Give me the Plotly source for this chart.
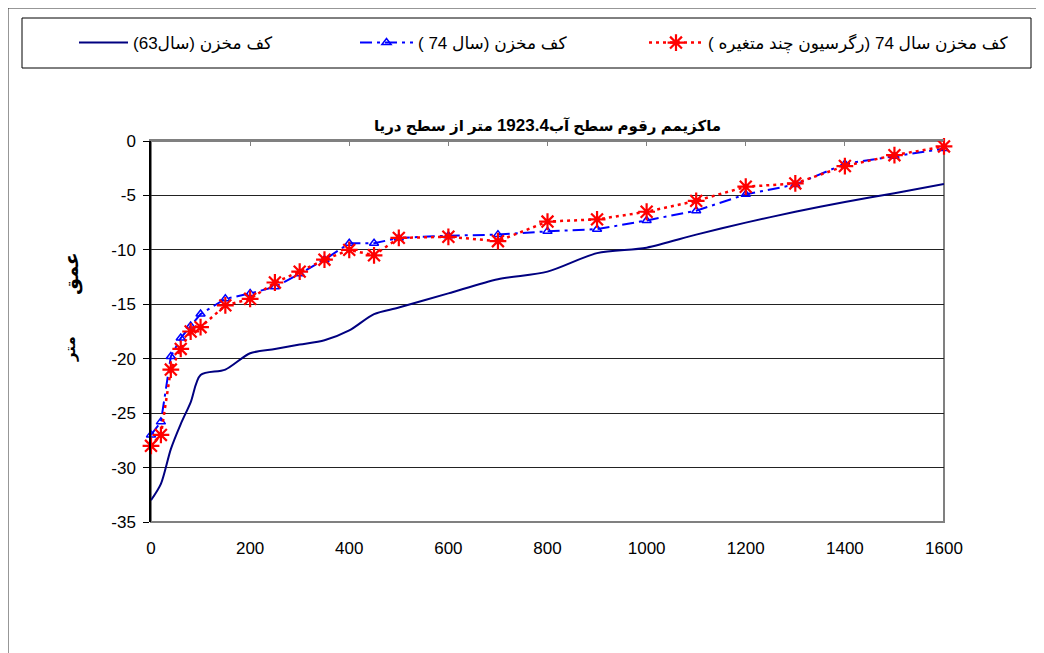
import plotly.graph_objects as go

# ---- data ----
distance = [0, 20, 40, 60, 80, 100, 150, 200, 250, 300, 350, 400, 450, 500,
            600, 700, 800, 900, 1000, 1100, 1200, 1300, 1400, 1500, 1600]
depth_63 = [-33.0, -31.5, -28.3, -26.0, -24.0, -21.5, -21.0, -19.5, -19.1, -18.7,
            -18.3, -17.4, -15.9, -15.3, -14.0, -12.7, -12.0, -10.3, -9.8, -8.6,
            -7.5, -6.5, -5.6, -4.8, -3.95]
depth_74 = [-27.0, -25.8, -19.8, -18.1, -17.0, -15.9, -14.5, -14.0, -13.4, -12.2,
            -10.9, -9.4, -9.4, -8.9, -8.7, -8.6, -8.3, -8.1, -7.3, -6.4,
            -4.9, -4.0, -2.1, -1.4, -0.7]
depth_74_reg = [-28.0, -27.0, -21.0, -19.1, -17.5, -17.1, -15.1, -14.5, -13.0, -12.0,
                -10.9, -10.0, -10.5, -8.9, -8.8, -9.2, -7.4, -7.2, -6.5, -5.5,
                -4.2, -3.9, -2.3, -1.3, -0.5]

RLE, PDF = "\u202b", "\u202c"
name_63 = RLE + "کف مخزن (سال63)" + PDF
name_74 = RLE + "کف مخزن (سال 74 )" + PDF
name_74_reg = RLE + "کف مخزن سال 74 (رگرسیون چند متغیره )" + PDF
title_text = (RLE + "ماکزیمم رقوم سطح آب<span style='font-size:17px'><b>1923.4</b></span>"
              " متر از سطح دریا" + PDF)
ylab_top = "عمق"
ylab_bot = "متر"

x_ticks = [0, 200, 400, 600, 800, 1000, 1200, 1400, 1600]
y_ticks = [0, -5, -10, -15, -20, -25, -30, -35]

FONT = "Liberation Sans, Arial, DejaVu Sans, sans-serif"
W, H = 1044, 653
OFF = 8  # page offset of the figure in the screenshot

# plot-area edges in page pixels
L, R, T, B = 151 - OFF, 944 - OFF, 141 - OFF, 522 - OFF

def px(xp):  # page pixel -> paper x
    return (xp - OFF - L) / (R - L)

def py(yp):  # page pixel -> paper y
    return (B - (yp - OFF)) / (B - T)

fig = go.Figure()
fig.add_trace(go.Scatter(
    x=distance, y=depth_63, name=name_63, mode="lines", legend="legend",
    line=dict(color="#000080", width=2, shape="spline", smoothing=0.8),
    cliponaxis=False))
fig.add_trace(go.Scatter(
    x=distance, y=depth_74, name=name_74, mode="lines+markers", legend="legend2",
    line=dict(color="#0000FF", width=2, dash="12px,5px,3px,5px"),
    marker=dict(symbol="triangle-up-open", size=8, color="#0000FF",
                line=dict(width=1.5, color="#0000FF")),
    cliponaxis=False))
fig.add_trace(go.Scatter(
    x=distance, y=depth_74_reg, name=name_74_reg, mode="lines+markers", legend="legend3",
    line=dict(color="#FF0000", width=2.5, dash="3px,4px"),
    marker=dict(symbol="asterisk-open", size=14, color="#FF0000",
                line=dict(width=2.2, color="#FF0000")),
    cliponaxis=False))

shapes = [
    # outer chart frame (figure border)
    dict(type="rect", xref="paper", yref="paper",
         x0=px(OFF - 0.5), x1=px(OFF + W + 10), y0=py(OFF + H + 10), y1=py(OFF - 0.5),
         line=dict(color="#303030", width=2), layer="below"),
    # legend box
    dict(type="rect", xref="paper", yref="paper", x0=px(22), x1=px(1031), y0=py(68), y1=py(18),
         line=dict(color="#000000", width=1), layer="below"),
    # plot-area border
    dict(type="rect", xref="paper", yref="paper", x0=0, x1=1, y0=0, y1=1,
         line=dict(color="#808080", width=2), layer="below"),
]

def legend_at(x_page, text_start):
    left = x_page - 5
    return dict(orientation="h", xref="paper", yref="paper",
                x=px(left), y=py(43), xanchor="left", yanchor="middle",
                font=dict(family=FONT, size=17, color="black"),
                itemwidth=max(30, text_start - left - 10),
                bgcolor="rgba(0,0,0,0)", borderwidth=0)

fig.update_layout(
    width=W, height=H,
    margin=dict(l=L, r=W - R, t=T, b=H - B, pad=0),
    paper_bgcolor="white", plot_bgcolor="white",
    font=dict(family=FONT, size=16, color="black"),
    title=dict(text=title_text, x=(L + R) / 2 / W, xanchor="center",
               y=1 - (126 - OFF) / H, yanchor="middle", yref="container",
               font=dict(family=FONT, size=15, color="black", weight="bold")),
    showlegend=True,
    legend=legend_at(79, 133),
    legend2=legend_at(360, 418),
    legend3=legend_at(649, 708),
    shapes=shapes,
    xaxis=dict(range=[0, 1600], tickvals=x_ticks, ticktext=[str(v) for v in x_ticks],
               showgrid=False, zeroline=False, showline=False, ticks="",
               ticklabelstandoff=14,
               tickfont=dict(family=FONT, size=17, color="black")),
    xaxis2=dict(range=[0, 1600], tickvals=x_ticks, overlaying="x", side="top",
                showticklabels=False, ticks="inside", ticklen=5, tickcolor="#808080",
                tickwidth=1, showline=True, linecolor="#808080", linewidth=2,
                showgrid=False, zeroline=False),
    yaxis=dict(range=[-35, 0], tickvals=y_ticks, ticktext=[str(v) for v in y_ticks],
               showgrid=True, gridcolor="#222222", gridwidth=1, zeroline=False,
               showline=True, linecolor="black", linewidth=1.5,
               ticks="outside", ticklen=6, tickcolor="black", ticklabelstandoff=4,
               tickfont=dict(family=FONT, size=17, color="black")),
    annotations=[
        dict(text="<b>" + ylab_top + "</b>", xref="paper", yref="paper",
             x=px(59), y=py(274), textangle=-90, showarrow=False,
             font=dict(family=FONT, size=19, color="black")),
        dict(text="<b>" + ylab_bot + "</b>", xref="paper", yref="paper",
             x=px(59), y=py(349), textangle=-90, showarrow=False,
             font=dict(family=FONT, size=15, color="black")),
    ],
)

# invisible trace to activate the top axis ticks
fig.add_trace(go.Scatter(x=[distance[0]], y=[depth_63[0]], xaxis="x2", mode="markers",
                         marker=dict(opacity=0), showlegend=False, hoverinfo="skip"))

fig.write_html("out.html")
